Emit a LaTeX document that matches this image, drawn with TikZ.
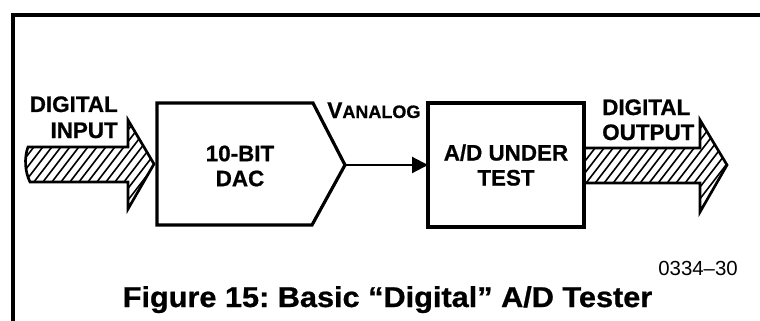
\documentclass[tikz,border=0pt]{standalone}
\usepackage{fontspec}
\usepackage{graphicx}
\setmainfont{Liberation Sans}[BoldFeatures={FakeBold=0.8}]
\usetikzlibrary{arrows.meta}
\begin{document}
\frenchspacing
\begin{tikzpicture}[x=0.75pt,y=-0.75pt,line join=miter,
  lbl/.style={font=\fontsize{16.8}{18.75}\selectfont\bfseries,inner sep=0pt},
  boxline/.style={line width=2.4pt},
  arrline/.style={line width=2pt},
  hatchline/.style={line width=1.2pt}]
\useasboundingbox (0,0) rectangle (760,321);
% frame
\draw[line width=2.4pt] (13,321) -- (13,15) -- (760,15);
% DAC block
\coordinate (dactip) at (345,165);
\draw[boxline] (157,103) -- (313,103) -- (dactip) -- (312,225) -- (157,225) -- cycle;
\node[lbl,align=center] (dac) at (240,166) {10-BIT\\DAC};
% A/D block
\node[boxline,draw,outer sep=0pt,minimum width=117pt,minimum height=93pt,
      lbl,align=center] (ad) at (506,165) {A/D UNDER\\TEST};
% analog connector
\draw[line width=1.6pt,-{Triangle[length=12pt,width=12pt]}] (dactip) -- (ad.west);
\node[anchor=base west,inner sep=0pt] (vlab) at (327,118)
  {\fontsize{17}{20}\selectfont\bfseries V\fontsize{13.5}{14}\selectfont ANALOG};
% input bus arrow
\begin{scope}
  \clip (28,147) -- (128,147) -- (128,120) -- (154,164) -- (128,209) -- (128,182)
        -- (30,182) .. controls (25,172) and (24,158) .. cycle;
  \foreach \x in {-120,-111,...,170} {\draw[hatchline] (\x,230) -- (\x+100,100);}
\end{scope}
\draw[arrline] (28,147) -- (128,147) -- (128,120) -- (154,164) -- (128,209) -- (128,182)
        -- (30,182) .. controls (25,172) and (24,158) .. cycle;
\node[lbl,anchor=base east] (din1) at (118,112) {DIGITAL};
\node[lbl,anchor=base east] (din2) at (118,138) {INPUT};
% output bus arrow
\begin{scope}
  \clip (585,148) -- (700,148) -- (700,120) -- (727,165) -- (700,212) -- (700,183)
        -- (585,183) -- cycle;
  \foreach \x in {460,469,...,740} {\draw[hatchline] (\x,230) -- (\x+100,100);}
\end{scope}
\draw[arrline] (585,148) -- (700,148) -- (700,120) -- (727,165) -- (700,212) -- (700,183)
        -- (585,183);
\node[lbl,anchor=base west] (dout1) at (602,115) {DIGITAL};
\node[lbl,anchor=base west] (dout2) at (602,140) {OUTPUT};
% captions
\node[anchor=base east,inner sep=0pt,font=\fontsize{15.3}{16}\selectfont] (code) at (738,275) {0334--30};
\node[anchor=base,inner sep=0pt,font=\fontsize{21.5}{24}\selectfont\bfseries] (title) at (387.5,307)
  {\scalebox{1.07}[1]{Figure 15: Basic “Digital” A/D Tester}};
\end{tikzpicture}
\end{document}
